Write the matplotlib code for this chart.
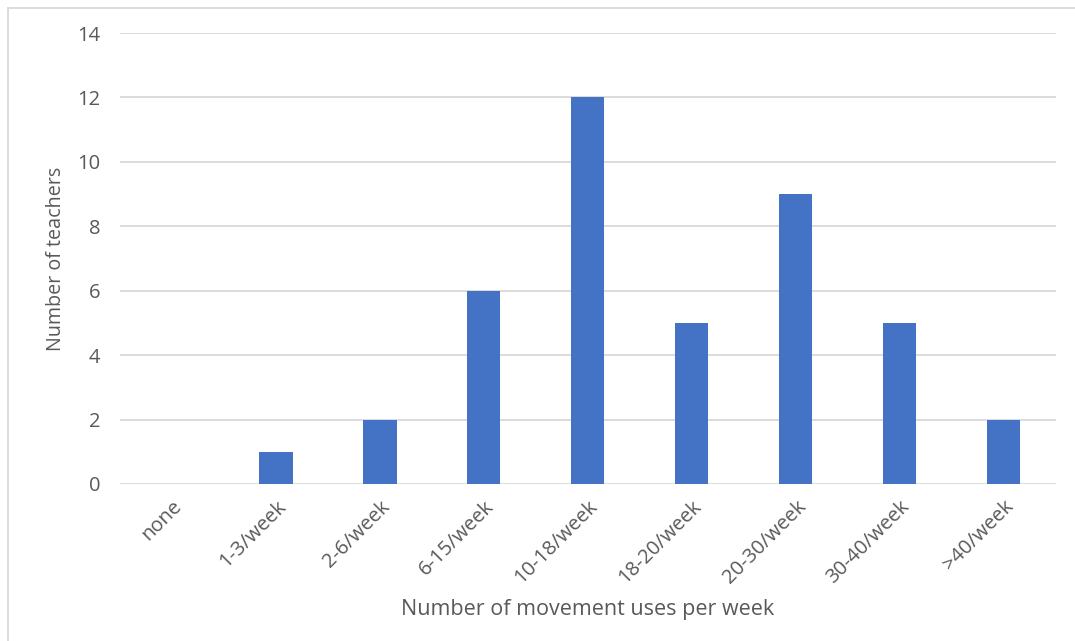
import matplotlib
matplotlib.use("Agg")
import matplotlib.pyplot as plt
from matplotlib.lines import Line2D

categories = ["none", "1-3/week", "2-6/week", "6-15/week", "10-18/week",
              "18-20/week", "20-30/week", "30-40/week", ">40/week"]
teachers = [0, 1, 2, 6, 12, 5, 9, 5, 2]
yticks = [0, 2, 4, 6, 8, 10, 12, 14]

plt.rcParams['font.family'] = ['Open Sans', 'DejaVu Sans']
fig = plt.figure(figsize=(10.75, 6.41), dpi=100)
ax = fig.add_axes([0.1116, 0.245, 0.8704, 0.7035])

ax.bar(range(len(categories)), teachers, width=0.32, color="#4472C4", zorder=3)
ax.set_xlim(-0.5, len(categories) - 0.5)
ax.set_ylim(0, 14)
ax.set_yticks(yticks)
ax.set_xticks(range(len(categories)))
ax.set_xticklabels(categories, rotation=45, ha="right", rotation_mode="anchor")
ax.yaxis.grid(True, color="#d9d9d9", linewidth=1.3, zorder=0)
ax.tick_params(axis="both", length=0, labelsize=14.5, labelcolor="#595959")
ax.tick_params(axis="x", pad=9)
ax.tick_params(axis="y", pad=14)
for s in ax.spines.values():
    s.set_visible(False)
ax.set_xlabel("Number of movement uses per week", fontsize=15.5, color="#595959", labelpad=8)
ax.set_ylabel("Number of teachers", fontsize=14.2, color="#595959", labelpad=8)

fig.add_artist(Line2D([8/1075, 8/1075], [0, 1 - 8/641], transform=fig.transFigure, color="#d9d9d9", lw=1.3))
fig.add_artist(Line2D([8/1075, 1], [1 - 8/641, 1 - 8/641], transform=fig.transFigure, color="#d9d9d9", lw=1.3))

fig.savefig("out.png", dpi=100)
